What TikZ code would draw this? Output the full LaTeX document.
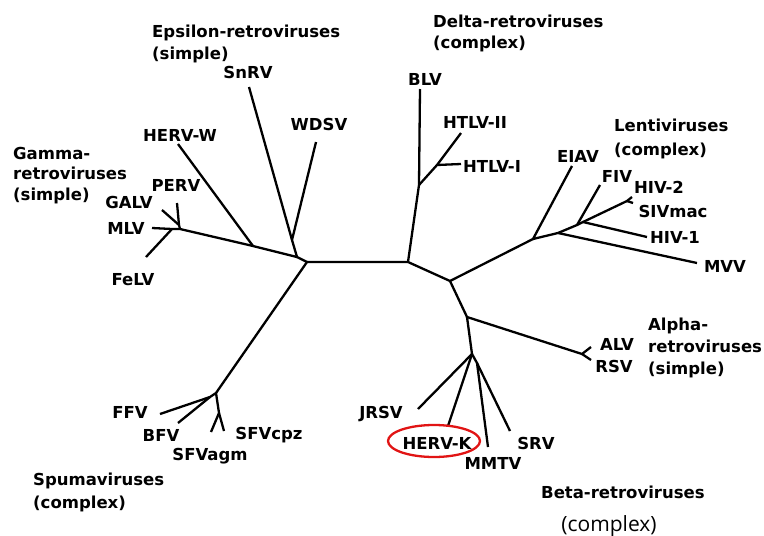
\documentclass[tikz,border=0pt]{standalone}
\usepackage{fontspec}
\setmainfont{DejaVu Sans}
\newfontfamily\notefont{Open Sans}
\usepackage{tikz}
\definecolor{markred}{RGB}{225, 20, 20}

\tikzset{
  branch/.style={line width=2.3pt, line join=round},
  taxon/.style={font=\fontsize{16.5}{19}\selectfont\bfseries, inner sep=0pt, anchor=base},
  family/.style={font=\fontsize{16.5}{22}\selectfont\bfseries, inner sep=0pt, anchor=base west, align=left},
}

\begin{document}
\begin{tikzpicture}[x=1pt, y=-1pt]
    \useasboundingbox (0,0) rectangle (764,536);

    % Inner branch points
    \coordinate (hubL) at (307,262);
    \coordinate (hubR) at (408,262);
    \coordinate (hubB) at (450,281);
    \coordinate (epsJ) at (297,257);
    \coordinate (wdsvJ) at (292,240);
    \coordinate (hervwJ) at (253,246);
    \coordinate (gamJ) at (180,229);
    \coordinate (felvJ) at (172,229);
    \coordinate (pervJ) at (179,225);
    \coordinate (spuJ) at (216,393);
    \coordinate (ffvJ) at (210,397);
    \coordinate (sfvJ) at (219,413);
    \coordinate (deltaJ) at (419,185);
    \coordinate (htlvJ) at (437,165);
    \coordinate (eiavJ) at (533,239);
    \coordinate (mvvJ) at (558,233);
    \coordinate (fivJ) at (577,225);
    \coordinate (hivJ) at (583,222);
    \coordinate (sivJ) at (627,201);
    \coordinate (alphaJ) at (467,317);
    \coordinate (alvJ) at (582,354);
    \coordinate (betaJ) at (472,354);
    \coordinate (mmtvJ) at (477,363);

    % Branch tips
    \coordinate (tSnRV) at (249,87);
    \coordinate (tWDSV) at (316,142);
    \coordinate (tHERVW) at (178,144);
    \coordinate (tPERV) at (177,203);
    \coordinate (tGALV) at (162,210);
    \coordinate (tMLV) at (152,228);
    \coordinate (tFeLV) at (146,257);
    \coordinate (tFFV) at (160,414);
    \coordinate (tBFV) at (178,423);
    \coordinate (tSFVagm) at (211,432);
    \coordinate (tSFVcpz) at (224,431);
    \coordinate (tBLV) at (420,89);
    \coordinate (tHTLVII) at (461,133);
    \coordinate (tHTLVI) at (461,164);
    \coordinate (tEIAV) at (572,166);
    \coordinate (tFIV) at (600,185);
    \coordinate (tHIVtwo) at (632,197);
    \coordinate (tSIVmac) at (633,203);
    \coordinate (tHIVone) at (647,237);
    \coordinate (tMVV) at (697,263);
    \coordinate (tALV) at (591,347);
    \coordinate (tRSV) at (591,360);
    \coordinate (tJRSV) at (418,409);
    \coordinate (tHERVK) at (448,426);
    \coordinate (tMMTV) at (488,447);
    \coordinate (tSRV) at (510,431);

    % Backbone
    \draw[branch] (hubL) -- (hubR) -- (hubB);

    % Epsilon and gamma
    \draw[branch] (hubL) -- (epsJ) -- (wdsvJ) -- (tSnRV);
    \draw[branch] (wdsvJ) -- (tWDSV);
    \draw[branch] (epsJ) -- (hervwJ) -- (gamJ) -- (felvJ) -- (tMLV);
    \draw[branch] (hervwJ) -- (tHERVW);
    \draw[branch] (felvJ) -- (tFeLV);
    \draw[branch] (gamJ) -- (pervJ) -- (tPERV);
    \draw[branch] (pervJ) -- (tGALV);

    % Spuma
    \draw[branch] (hubL) -- (spuJ) -- (ffvJ) -- (tFFV);
    \draw[branch] (ffvJ) -- (tBFV);
    \draw[branch] (spuJ) -- (sfvJ) -- (tSFVagm);
    \draw[branch] (sfvJ) -- (tSFVcpz);

    % Delta
    \draw[branch] (hubR) -- (deltaJ) -- (tBLV);
    \draw[branch] (deltaJ) -- (htlvJ) -- (tHTLVII);
    \draw[branch] (htlvJ) -- (tHTLVI);

    % Lenti
    \draw[branch] (hubB) -- (eiavJ) -- (tEIAV);
    \draw[branch] (eiavJ) -- (mvvJ) -- (tMVV);
    \draw[branch] (mvvJ) -- (fivJ) -- (tFIV);
    \draw[branch] (fivJ) -- (hivJ) -- (tHIVone);
    \draw[branch] (hivJ) -- (sivJ) -- (tHIVtwo);
    \draw[branch] (sivJ) -- (tSIVmac);

    % Alpha
    \draw[branch] (hubB) -- (alphaJ) -- (alvJ) -- (tALV);
    \draw[branch] (alvJ) -- (tRSV);

    % Beta
    \draw[branch] (alphaJ) -- (betaJ) -- (tJRSV);
    \draw[branch] (betaJ) -- (tHERVK);
    \draw[branch] (betaJ) -- (mmtvJ) -- (tMMTV);
    \draw[branch] (mmtvJ) -- (tSRV);

    % Virus labels
    \node[taxon] (lSnRV) at (248,78) {SnRV};
    \node[taxon] (lWDSV) at (319,130) {WDSV};
    \node[taxon] (lHERVW) at (180,141) {HERV-W};
    \node[taxon] (lPERV) at (176,191) {PERV};
    \node[taxon] (lGALV) at (129,208) {GALV};
    \node[taxon] (lMLV) at (126,234) {MLV};
    \node[taxon] (lFeLV) at (133,285) {FeLV};
    \node[taxon] (lFFV) at (130,418) {FFV};
    \node[taxon] (lBFV) at (161,441) {BFV};
    \node[taxon] (lSFVagm) at (210,460) {SFVagm};
    \node[taxon] (lSFVcpz) at (269,439) {SFVcpz};
    \node[taxon] (lBLV) at (425,85) {BLV};
    \node[taxon] (lHTLVII) at (475,128) {HTLV-II};
    \node[taxon] (lHTLVI) at (492,172) {HTLV-I};
    \node[taxon] (lEIAV) at (578,162) {EIAV};
    \node[taxon] (lFIV) at (617,182) {FIV};
    \node[taxon] (lHIVtwo) at (659,193) {HIV-2};
    \node[taxon] (lSIVmac) at (673,217) {SIVmac};
    \node[taxon] (lHIVone) at (675,243) {HIV-1};
    \node[taxon] (lMVV) at (725,272) {MVV};
    \node[taxon] (lALV) at (617,350) {ALV};
    \node[taxon] (lRSV) at (614,372) {RSV};
    \node[taxon] (lJRSV) at (381,418) {JRSV};
    \node[taxon] (lHERVK) at (437,449) {HERV-K};
    \node[taxon] (lMMTV) at (493,469) {MMTV};
    \node[taxon] (lSRV) at (536,449) {SRV};

    % HERV-K highlight
    \draw[markred, line width=2.3pt] (434,441) ellipse (46 and 16);

    % Group names (anchored at the baseline of the last line)
    \node[family] (gEpsilon) at (152,59) {Epsilon-retroviruses\\(simple)};
    \node[family, font=\fontsize{16.5}{20.5}\selectfont\bfseries] (gGamma) at (13,200) {Gamma-\\retroviruses\\(simple)};
    \node[family, font=\fontsize{16.5}{21}\selectfont\bfseries] (gDelta) at (433,48) {Delta-retroviruses\\(complex)};
    \node[family, font=\fontsize{16.5}{24}\selectfont\bfseries] (gLenti) at (614,155) {Lentiviruses\\(complex)};
    \node[family] (gAlpha) at (648,374) {Alpha-\\retroviruses\\(simple)};
    \node[family, font=\fontsize{16.5}{23}\selectfont\bfseries] (gSpuma) at (33,508) {Spumaviruses\\(complex)};
    \node[family] (gBeta) at (541,498) {Beta-retroviruses};
    \node[inner sep=0pt, anchor=base, font=\notefont\fontsize{21}{24}\selectfont] (gBetaNote) at (609,531) {(complex)};

\end{tikzpicture}
\end{document}
